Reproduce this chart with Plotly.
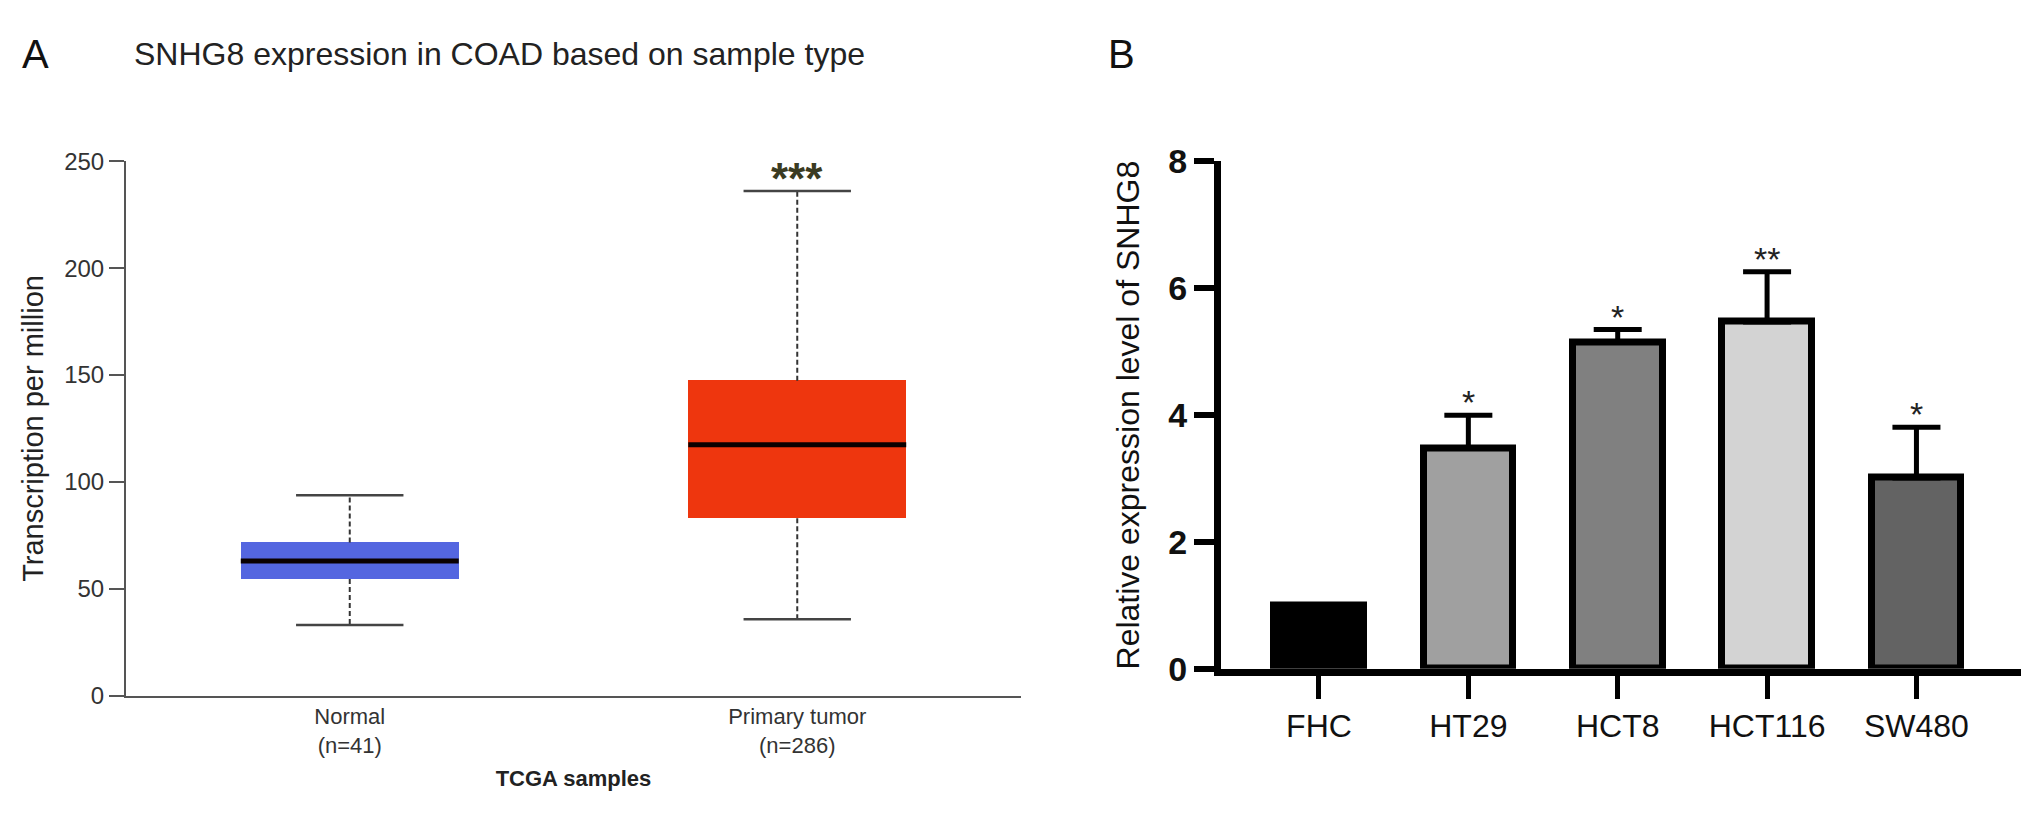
import plotly.graph_objects as go

FONT = "Liberation Sans, Arial, sans-serif"

# ---- panel A: SNHG8 in COAD (TCGA) ----
groups = ["Normal<br>(n=41)", "Primary tumor<br>(n=286)"]
box_colors = ["#5466e0", "#ee360e"]
q1 = [54.5, 83.0]
median = [63.0, 117.4]
q3 = [71.6, 147.4]
lower = [33.0, 35.7]
upper = [93.7, 236.2]
sig_a = ["", "***"]
a_ticks = [0, 50, 100, 150, 200, 250]

# ---- panel B: cell lines ----
cells = ["FHC", "HT29", "HCT8", "HCT116", "SW480"]
rel_expr = [1.0, 3.48, 5.15, 5.47, 3.01]
rel_sd = [0.0, 0.52, 0.20, 0.79, 0.80]
bar_colors = ["#000000", "#a0a0a0", "#808080", "#d3d3d3", "#636363"]
sig_b = ["", "*", "*", "**", "*"]
b_ticks = [0, 2, 4, 6, 8]

BOX_W = 0.487
CAP_W = 0.12
pos_a = list(range(len(groups)))
pos_b = list(range(len(cells)))

fig = go.Figure()

# boxes (interquartile range)
fig.add_trace(go.Bar(
    x=pos_a, y=[h - l for l, h in zip(q1, q3)], base=q1,
    width=BOX_W, marker=dict(color=box_colors, line=dict(width=0)),
    xaxis="x", yaxis="y", showlegend=False, hoverinfo="skip"))

# whiskers
wx, wy = [], []
for p, a, b, c, d in zip(pos_a, q3, upper, q1, lower):
    wx += [p, p, None, p, p, None]
    wy += [a, b, None, c, d, None]
fig.add_trace(go.Scatter(
    x=wx, y=wy, mode="lines", line=dict(color="#333333", width=2, dash="5px,3px"),
    xaxis="x", yaxis="y", showlegend=False, hoverinfo="skip"))

# whisker caps
cx, cy = [], []
for p, b, d in zip(pos_a, upper, lower):
    cx += [p - CAP_W, p + CAP_W, None, p - CAP_W, p + CAP_W, None]
    cy += [b, b, None, d, d, None]
fig.add_trace(go.Scatter(
    x=cx, y=cy, mode="lines", line=dict(color="#444444", width=2.5),
    xaxis="x", yaxis="y", showlegend=False, hoverinfo="skip"))

# medians
mx, my = [], []
for p, m in zip(pos_a, median):
    mx += [p - BOX_W / 2, p + BOX_W / 2, None]
    my += [m, m, None]
fig.add_trace(go.Scatter(
    x=mx, y=my, mode="lines", line=dict(color="#0a0000", width=5),
    xaxis="x", yaxis="y", showlegend=False, hoverinfo="skip"))

# bars with SD
fig.add_trace(go.Bar(
    x=pos_b, y=rel_expr, width=0.6,
    marker=dict(color=bar_colors, line=dict(color="black", width=7)),
    error_y=dict(type="data", symmetric=False, array=rel_sd,
                 arrayminus=[0] * len(rel_sd), color="black", thickness=5, width=24),
    xaxis="x2", yaxis="y2", showlegend=False))

annotations = []
for p, u, s in zip(pos_a, upper, sig_a):
    if s:
        annotations.append(dict(x=p, y=u, xref="x", yref="y", text="<b>" + s + "</b>",
                                showarrow=False, yanchor="middle", yshift=12,
                                font=dict(family=FONT, size=44, color="#3b3b22")))
for p, v, e, s in zip(pos_b, rel_expr, rel_sd, sig_b):
    if s:
        annotations.append(dict(x=p, y=v + e, xref="x2", yref="y2", text=s,
                                showarrow=False, yanchor="middle", yshift=13,
                                font=dict(family=FONT, size=34, color="#222222")))

annotations += [
    dict(x=12 / 2031, y=1 - 28 / 820, xref="paper", yref="paper", text="A",
         showarrow=False, xanchor="left", yanchor="middle",
         font=dict(family=FONT, size=40, color="#111111")),
    dict(x=124 / 2031, y=1 - 28 / 820, xref="paper", yref="paper",
         text="SNHG8 expression in COAD based on sample type",
         showarrow=False, xanchor="left", yanchor="middle",
         font=dict(family=FONT, size=32, color="#222222")),
    dict(x=1098 / 2031, y=1 - 28 / 820, xref="paper", yref="paper", text="B",
         showarrow=False, xanchor="left", yanchor="middle",
         font=dict(family=FONT, size=40, color="#111111")),
]

fig.update_layout(
    width=2031, height=820,
    margin=dict(l=0, r=0, t=0, b=0),
    paper_bgcolor="white", plot_bgcolor="white",
    font=dict(family=FONT, color="#222222"),
    bargap=0,
    annotations=annotations,
    xaxis=dict(
        domain=[118 / 2031, 1013 / 2031], range=[-0.5, 1.5],
        tickvals=pos_a, ticktext=groups, ticks="", showgrid=False, zeroline=False,
        showline=True, linecolor="#555555", linewidth=2,
        tickfont=dict(family=FONT, size=22, color="#333333"),
        title=dict(text="<b>TCGA samples</b>", standoff=14,
                   font=dict(family=FONT, size=22, color="#222222")),
    ),
    yaxis=dict(
        domain=[(820 - 701) / 820, (820 - 141) / 820], range=[0, 250],
        tickvals=a_ticks, ticks="outside", ticklen=15, tickwidth=2, tickcolor="#555555",
        showgrid=False, zeroline=False, showline=True, linecolor="#555555", linewidth=2,
        tickfont=dict(family=FONT, size=24, color="#333333"),
        title=dict(text="Transcription per million", standoff=12,
                   font=dict(family=FONT, size=29, color="#222222")),
    ),
    xaxis2=dict(
        domain=[1213 / 2031, 2013 / 2031], range=[-0.656, 4.70], anchor="y2",
        tickvals=pos_b, ticktext=cells, ticks="outside", ticklen=23, tickwidth=5,
        tickcolor="black", showgrid=False, zeroline=False,
        showline=True, linecolor="black", linewidth=7,
        tickfont=dict(family=FONT, size=32, color="#111111"),
    ),
    yaxis2=dict(
        domain=[(820 - 673) / 820, (820 - 141) / 820], range=[0, 8], anchor="x2",
        tickvals=b_ticks, ticks="outside", ticklen=20, tickwidth=6, tickcolor="black",
        showgrid=False, zeroline=False, showline=True, linecolor="black", linewidth=7,
        tickfont=dict(family=FONT, size=34, color="#111111", weight="bold"),
        title=dict(text="Relative expression level of SNHG8", standoff=22,
                   font=dict(family=FONT, size=32, color="#111111")),
    ),
)

fig.write_html("out.html")
